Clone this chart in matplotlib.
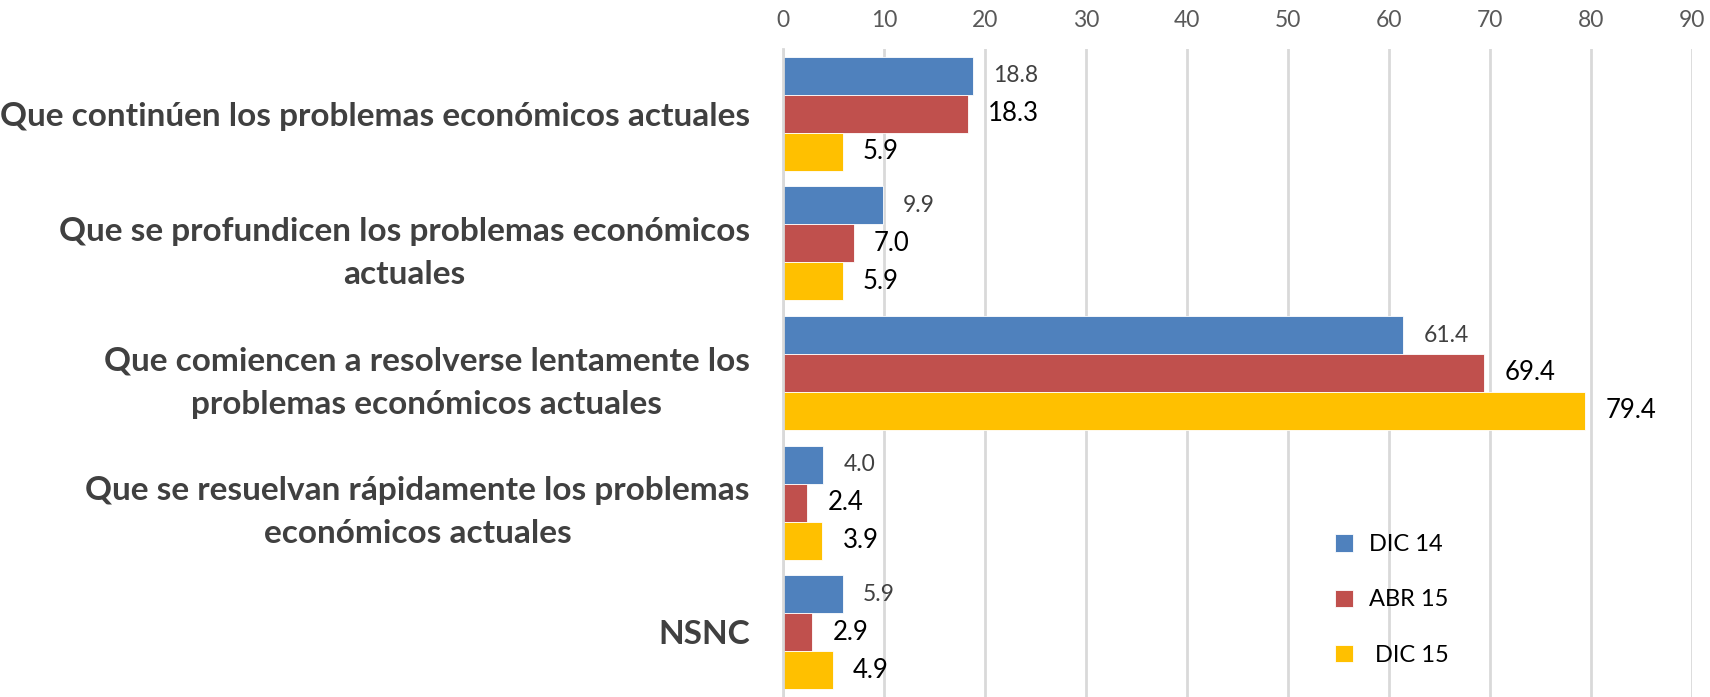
import numpy as np
import matplotlib.pyplot as plt

# datos
categorias = [
    "Que continúen los problemas económicos actuales",
    "Que se profundicen los problemas económicos\nactuales",
    "Que comiencen a resolverse lentamente los\nproblemas económicos actuales",
    "Que se resuelvan rápidamente los problemas\neconómicos actuales",
    "NSNC",
]
dic14 = [18.8, 9.9, 61.4, 4.0, 5.9]
abr15 = [18.3, 7.0, 69.4, 2.4, 2.9]
dic15 = [5.9, 5.9, 79.4, 3.9, 4.9]
series_labels = ["DIC 14", "ABR 15", " DIC 15"]
xticks = [0, 10, 20, 30, 40, 50, 60, 70, 80, 90]

colores = ["#4F81BD", "#C0504D", "#FFC000"]
plt.rcParams['font.family'] = ['Lato', 'DejaVu Sans']

fig = plt.figure(figsize=(17.1, 6.97), dpi=100)
ax = fig.add_axes([0.4579, 0.0, 0.9895 - 0.4579, 1 - 49 / 697])

y = np.arange(len(categorias))
h = 0.293
for i, (vals, col, lab) in enumerate(zip([dic14, abr15, dic15], colores, series_labels)):
    pos = y + (i - 1) * h
    ax.barh(pos, vals, height=h, color=col, label=lab, edgecolor='white', linewidth=0.6)
    for p, v in zip(pos, vals):
        if i == 0:
            ax.text(v + 2.0, p, f"{v:.1f}", va='center', ha='left', fontsize=16.5, color='#404040')
        else:
            ax.text(v + 2.0, p, f"{v:.1f}", va='center', ha='left', fontsize=18.5, color='black')

ax.set_xlim(0, 90)
ax.set_ylim(len(categorias) - 0.5, -0.5)
ax.set_xticks(xticks)
ax.xaxis.tick_top()
ax.tick_params(axis='x', length=0, pad=13, labelsize=16.5, labelcolor='#595959')
ax.set_yticks(y)
ax.set_yticklabels(categorias, fontsize=24, fontweight='bold', color='#404040',
                   ha='right', ma='center', linespacing=1.6)
ax.tick_params(axis='y', length=0, pad=24)
ax.grid(axis='x', color='#D9D9D9', linewidth=2)
ax.set_axisbelow(True)
for s in ['top', 'right', 'bottom']:
    ax.spines[s].set_visible(False)
ax.spines['left'].set_color('#D9D9D9')
ax.spines['left'].set_linewidth(2)

ax.legend(loc='upper left', bbox_to_anchor=(1314 / 1710, 1 - 513 / 697), bbox_transform=fig.transFigure,
          frameon=False, fontsize=17, handlelength=0.76, handleheight=0.76,
          handletextpad=0.65, labelspacing=1.45)

fig.savefig('out.png', dpi=100)
